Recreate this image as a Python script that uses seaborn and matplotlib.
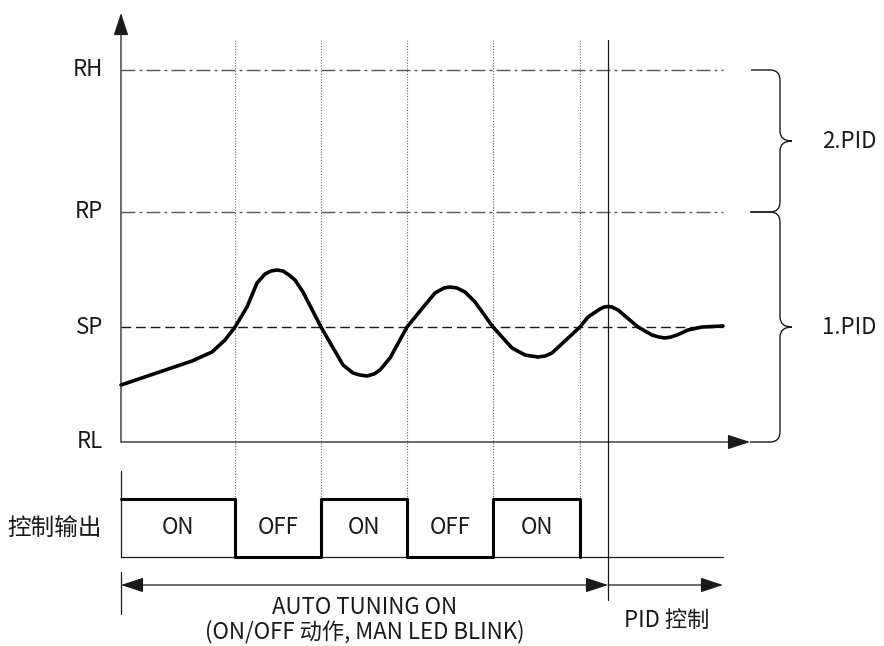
import numpy as np
import pandas as pd
import seaborn as sns
import matplotlib.pyplot as plt
from matplotlib.path import Path
from matplotlib.patches import PathPatch

# -------------------------------
# Dados
# -------------------------------
level_names = ['RL', 'SP', 'RP', 'RH']
level_values = [0, 115, 230, 372]

# curva do processo (tempo, valor)
t = [0, 71, 91, 104, 114, 126, 136, 144, 150, 156, 162, 168, 174, 182, 200,
     222, 232, 239, 246, 253, 259, 269, 286, 304, 314, 323, 329, 336, 344,
     354, 372, 391, 404, 410, 417, 424, 431, 459, 467, 479, 483, 487, 491,
     497, 517, 531, 538, 544, 550, 556, 567, 581, 602]
pv = [57, 81, 90, 102, 115, 135, 159, 168, 171, 172, 171, 167, 162, 150, 115,
      77, 69, 67, 66, 68, 72, 84, 115, 137, 149, 154, 155, 154, 150,
      140, 115, 94, 87, 86, 85, 86, 89, 115, 125, 133, 135, 135.5, 135,
      132, 115, 107, 105, 104, 105, 107, 112, 115, 116]

switch_times = [114, 200, 286, 372, 459]
pid_start = 487
t_end = 602
out_labels = ['ON', 'OFF', 'ON', 'OFF', 'ON']
out_states = [1, 0, 1, 0, 1]

pid_zones = ['1.PID', '2.PID']

# -------------------------------
# Figura
# -------------------------------
sns.set_theme(style='white')
plt.rcParams['font.family'] = ['Noto Sans CJK SC', 'DejaVu Sans']

fig = plt.figure(figsize=(8.84, 6.46), dpi=100)
ax = fig.add_axes([0, 0, 1, 1])
ax.set_xlim(-121, 763)
ax.set_ylim(-204, 442)
ax.axis('off')

ink = '#1a1a1a'
txt = dict(fontsize=16, color=ink, fontweight='light')

# eixos com seta
arrow = dict(arrowstyle='-|>,head_length=14,head_width=4.6', color=ink, lw=0.9,
             shrinkA=0, shrinkB=0, mutation_scale=1)
ax.annotate('', xy=(0, 429), xytext=(0, 0), arrowprops=arrow)
ax.annotate('', xy=(629, 0), xytext=(0, 0), arrowprops=arrow)

# linhas de nivel
for name, val in zip(level_names, level_values):
    ax.text(-18, val, name, ha='right', va='center', **txt)
    if name in ('RH', 'RP'):
        ax.plot([0, t_end], [val, val], color='#555555', lw=1,
                linestyle=(0, (10, 3, 2, 3)))
    elif name == 'SP':
        ax.plot([0, t_end], [val, val], color=ink, lw=1,
                linestyle=(0, (7, 3.5)))

# linhas verticais pontilhadas
for ts in switch_times:
    ax.plot([ts, ts], [402, -57], color='#666666', lw=0.8,
            linestyle=(0, (1, 1.5)))
ax.plot([pid_start, pid_start], [402, -158], color=ink, lw=0.9)

# curva
curve = pd.DataFrame({'t': t, 'pv': pv})
sns.lineplot(data=curve, x='t', y='pv', sort=False, color='black', lw=2.6,
             ax=ax, estimator=None, solid_joinstyle='round',
             solid_capstyle='round')

# chaves (braces)
def brace(ax, x, y_bot, y_top, x_arm, r=10, tip=12):
    ym = (y_bot + y_top) / 2
    verts = [(x_arm, y_top), (x - r, y_top), (x, y_top), (x, y_top - r),
             (x, ym + r), (x, ym), (x + tip, ym), (x, ym), (x, ym - r),
             (x, y_bot + r), (x, y_bot), (x - r, y_bot), (x_arm, y_bot)]
    codes = [Path.MOVETO, Path.LINETO, Path.CURVE3, Path.CURVE3,
             Path.LINETO, Path.CURVE3, Path.CURVE3, Path.CURVE3, Path.CURVE3,
             Path.LINETO, Path.CURVE3, Path.CURVE3, Path.LINETO]
    ax.add_patch(PathPatch(Path(verts, codes), fill=False, lw=1, ec=ink))

brace(ax, 659, level_values[2], level_values[3], 630)
brace(ax, 659, level_values[0], level_values[2], 629)
ax.text(701, (level_values[0] + level_values[2]) / 2, pid_zones[0],
        ha='left', va='center', **txt)
ax.text(701, (level_values[2] + level_values[3]) / 2, pid_zones[1],
        ha='left', va='center', **txt)

# saida de controle
hi, lo = -57, -115
step_x = [0] + switch_times
step_y = [hi if s else lo for s in out_states] + [lo]
ax.plot([0, t_end], [lo, lo], color=ink, lw=0.9)
ax.plot([0, 0], [lo, -29], color=ink, lw=0.9)
sns.lineplot(x=step_x, y=step_y, drawstyle='steps-post', color='black',
             lw=2.2, ax=ax, estimator=None, sort=False)
edges = [0] + switch_times
for i, lab in enumerate(out_labels):
    ax.text((edges[i] + edges[i + 1]) / 2, (hi + lo) / 2, lab,
            ha='center', va='center', **txt)
ax.text(-19, (hi + lo) / 2, '控制输出', ha='right', va='center',
        fontsize=17, color=ink, fontweight='light')

# setas de fase
y_ar = -143
ax.plot([0, 0], [-130, -172], color=ink, lw=0.9)
arrow2 = dict(arrowstyle='<|-|>,head_length=14,head_width=4.6', color=ink,
              lw=0.9, shrinkA=0, shrinkB=0, mutation_scale=1)
ax.annotate('', xy=(pid_start, y_ar), xytext=(0, y_ar), arrowprops=arrow2)
ax.annotate('', xy=(t_end, y_ar), xytext=(pid_start, y_ar), arrowprops=arrow)

ax.text(pid_start / 2, -165, 'AUTO TUNING ON', ha='center', va='center',
        **txt)
ax.text(pid_start / 2, -190, '(ON/OFF 动作, MAN LED BLINK)', ha='center',
        va='center', **txt)
ax.text(546, -178, 'PID 控制', ha='center', va='center', **txt)

fig.savefig('out.png', dpi=100)
